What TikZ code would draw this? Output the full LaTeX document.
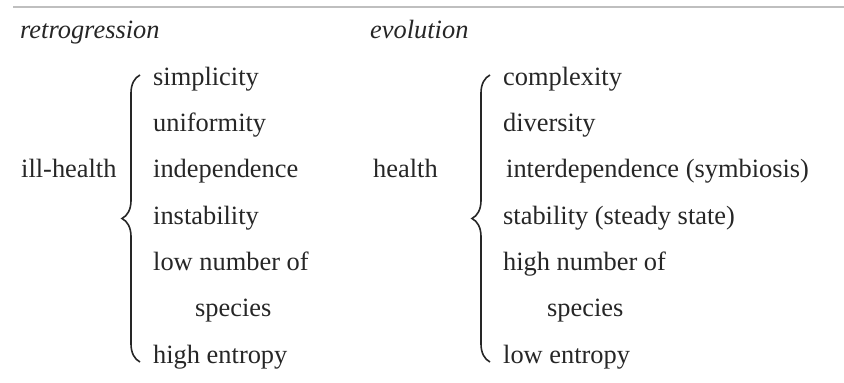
\documentclass[tikz,border=0pt]{standalone}
\usepackage{fontspec}
\setmainfont{Liberation Serif}
\usetikzlibrary{decorations.pathreplacing}

\tikzset{
  txt/.style={anchor=base west, inner sep=0pt, text=black!85,
    font=\fontsize{26.4}{30}\selectfont},
  head/.style={txt, font=\fontsize{26.4}{30}\selectfont\itshape},
  curly/.style={decorate, decoration={brace, amplitude=18pt},
    line width=1.6pt, draw=black!85}
}

\begin{document}
\begin{tikzpicture}[x=1pt, y=-1pt]
        \useasboundingbox (0,0) rectangle (844,383);
        % Rule on top
        \draw[line width=2pt, black!25] (13,7) -- (844,7);
        % Headings
        \node[head] (retro) at (20,38) {retrogression};
        \node[head] (evol) at (370,38) {evolution};
        % Left side
        \node[txt] (ill) at (21,177.7) {ill-health};
        \draw[curly] (140,362) -- (140,75);
        \node[txt] (l1) at (153,85) {simplicity};
        \node[txt] (l2) at (153,131.3) {uniformity};
        \node[txt] (l3) at (153,177.7) {independence};
        \node[txt] (l4) at (153,224) {instability};
        \node[txt] (l5) at (153,270.3) {low number of};
        \node[txt] (l6) at (195,316.7) {species};
        \node[txt] (l7) at (153,363) {high entropy};
        % Right side
        \node[txt] (hl) at (373,177.7) {health};
        \draw[curly] (490,362) -- (490,75);
        \node[txt] (r1) at (503,85) {complexity};
        \node[txt] (r2) at (503,131.3) {diversity};
        \node[txt] (r3) at (506,177.7) {interdependence (symbiosis)};
        \node[txt] (r4) at (503,224) {stability (steady state)};
        \node[txt] (r5) at (503,270.3) {high number of};
        \node[txt] (r6) at (547,316.7) {species};
        \node[txt] (r7) at (503,363) {low entropy};
    \end{tikzpicture}
\end{document}
